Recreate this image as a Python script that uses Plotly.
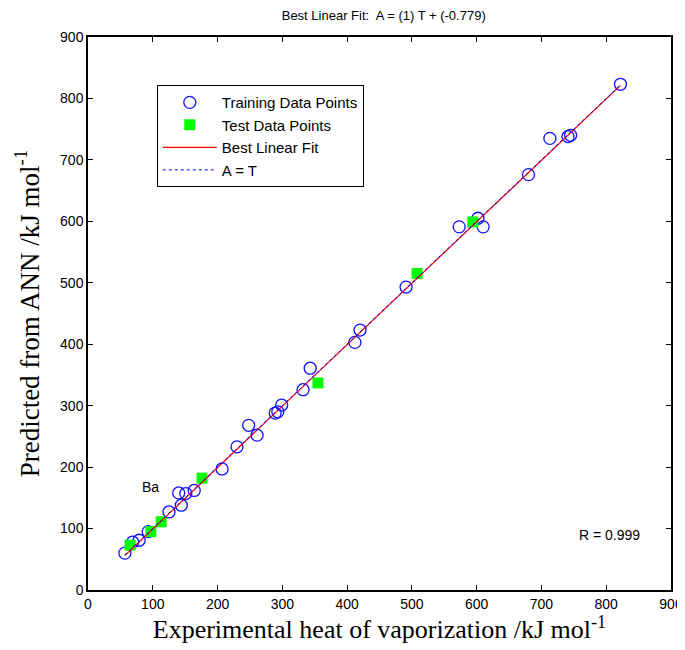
import plotly.graph_objects as go

# Training data points (experimental, predicted)
train_x = [57, 69, 79, 93, 125, 140, 151, 164, 144, 207, 230, 248, 261, 289, 293, 299, 332, 343, 412, 420,
           491, 573, 602, 610, 680, 713, 741, 745, 822]
train_y = [60, 78, 81, 95, 127, 158, 157, 162, 138, 197, 233, 268, 252, 288, 290, 301, 326, 361, 403, 423,
           493, 591, 605, 591, 676, 735, 738, 740, 823]

# Test data points
test_x = [65, 97, 113, 176, 355, 508, 594]
test_y = [73, 95, 111, 182, 337, 515, 599]

slope = 1.0
intercept = -0.779
fit_x = [min(train_x + test_x), max(train_x + test_x)]
fit_y = [slope * v + intercept for v in fit_x]

x_ticks = [0, 100, 200, 300, 400, 500, 600, 700, 800, 900]
y_ticks = [0, 100, 200, 300, 400, 500, 600, 700, 800, 900]

fig = go.Figure()
fig.add_trace(go.Scatter(x=train_x, y=train_y, mode="markers", name="Training Data Points",
                         marker=dict(symbol="circle-open", size=12, color="#1010ff", line=dict(width=1.3))))
fig.add_trace(go.Scatter(x=test_x, y=test_y, mode="markers", name="Test Data Points",
                         marker=dict(symbol="square", size=11, color="#00ff00")))
fig.add_trace(go.Scatter(x=fit_x, y=fit_y, mode="lines", name="Best Linear Fit",
                         line=dict(color="#ff0000", width=1.2)))
fig.add_trace(go.Scatter(x=fit_x, y=fit_x, mode="lines", name="A = T",
                         line=dict(color="#0000ff", width=1, dash="dot")))

axis_common = dict(showgrid=False, zeroline=False, showline=True, linecolor="black", linewidth=1.5,
                   mirror="ticks", ticks="inside", ticklen=5, tickcolor="black", automargin=False,
                   tickfont=dict(family="Liberation Sans, Arial", size=14, color="black"))

fig.update_xaxes(range=[0, 900], tickvals=x_ticks, **axis_common,
                 title=dict(text="Experimental heat of vaporization /kJ mol<sup>-1</sup>",
                            font=dict(family="Liberation Serif, Times New Roman", size=26, color="black"),
                            standoff=6))
fig.update_yaxes(range=[0, 900], tickvals=y_ticks, **axis_common,
                 title=dict(text="Predicted from ANN /kJ mol<sup>-1</sup>",
                            font=dict(family="Liberation Serif, Times New Roman", size=27, color="black"),
                            standoff=13))

fig.add_annotation(x=96, y=168, text="Ba", showarrow=False,
                   font=dict(family="Liberation Sans, Arial", size=14, color="black"))
fig.add_annotation(x=805, y=90, text="R = 0.999", showarrow=False,
                   font=dict(family="Liberation Sans, Arial", size=14, color="black"))

fig.update_layout(
    width=677, height=642,
    margin=dict(l=80, r=14, t=29, b=60),
    plot_bgcolor="white", paper_bgcolor="white",
    title=dict(text="Best Linear Fit:  A = (1) T + (-0.779)", x=0.555, xanchor="center", y=0.989, yanchor="middle",
               font=dict(family="Liberation Sans, Arial", size=13, color="black")),
    legend=dict(x=0.118, y=0.913, xanchor="left", yanchor="top", bordercolor="black", borderwidth=1,
                bgcolor="white", tracegroupgap=0, itemwidth=54,
                font=dict(family="Liberation Sans, Arial", size=15, color="black")),
)

fig.write_html("out.html")
